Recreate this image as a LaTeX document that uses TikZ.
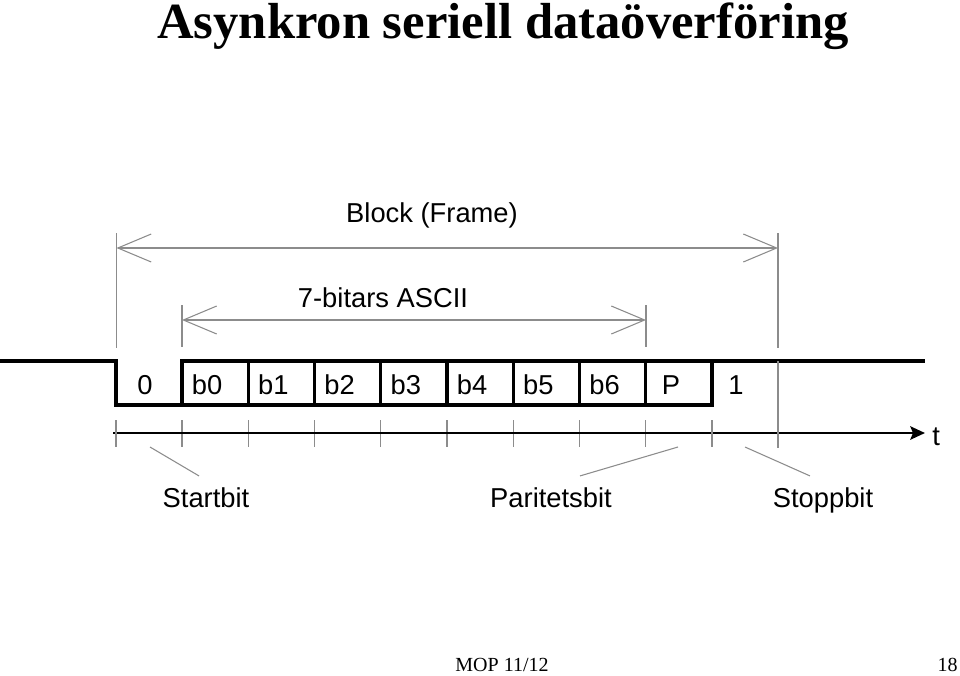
\documentclass[tikz,border=0pt]{standalone}
\usepackage{fontspec}
\setmainfont{Liberation Serif}
\setsansfont{Liberation Sans}
\usepackage{xcolor}
\definecolor{gra}{RGB}{140,140,140}
\usepackage{tikz}
\usetikzlibrary{arrows.meta,positioning,calc}

\begin{document}
\begin{tikzpicture}[x=0.75pt,y=-0.75pt,
    etikett/.style={font=\fontsize{20.5}{24}\selectfont\sffamily,inner sep=0pt,anchor=base},
    ruta/.style={draw,line width=2.3pt,minimum width=49.69pt,minimum height=33pt,inner sep=0pt,outer sep=0pt},
    tunn/.style={draw=gra,line width=0.8pt},
    matt/.style={tunn,{Straight Barb[length=25pt,width=21pt]}-{Straight Barb[length=25pt,width=21pt]}},
    signal/.style={line width=2.3pt}
    ]
    \useasboundingbox (0,0) rectangle (960,675);

    % rubrik
    \node[font=\fontsize{38}{40}\selectfont\bfseries,inner sep=0pt,anchor=base] (rubrik) at (503,38) {Asynkron seriell dataöverföring};

    % bitrutor
    \foreach \t [count=\i from 0] in {b0,b1,b2,b3,b4,b5,b6,P} {
      \node[ruta] (bit\i) at (215.125+66.25*\i,383) {};
      \node[etikett] at ($(bit\i.center)+(-8,11)$) {\t};
      \draw[tunn] (bit\i.south west) ++(0,15) -- ++(0,27);
    }
    \node[etikett] (noll) at (145,394) {0};
    \node[etikett] (etta) at (736,394) {1};

    % signalen
    \coordinate (vila) at (0,361);
    \coordinate (fall) at (116,405);
    \coordinate (slut) at (925,361);
    \draw[signal] (vila) -| (fall) -- (bit0.south west);
    \draw[signal] (bit7.north east) -- (slut);

    % tidsaxel
    \coordinate (t0) at (113,433);
    \coordinate (tspets) at (925,433);
    \node[etikett,anchor=base west] (tid) at (932,445) {t};
    \draw[line width=2pt,-{Stealth[length=11pt,width=10pt,inset=2pt]}] (t0) -- (tspets);
    \draw[tunn] (116,420) -- (116,447);
    \draw[tunn] (bit7.south east) ++(0,15) -- ++(0,27);

    % block (frame)
    \coordinate (ram0) at (116.5,233);
    \coordinate (ram1) at (778,233);
    \draw[tunn] (ram0) -- ++(0,115);
    \draw[tunn] (ram1) -- ++(0,115);
    \draw[tunn] (778,361) -- (778,448);
    \draw[matt] ($(ram0)+(0,15)$) -- ($(ram1)+(0,15)$);
    \node[etikett] (ram) at (432,222) {Block (Frame)};

    % 7-bitars ASCII
    \coordinate (ascii0) at (182,305);
    \coordinate (ascii1) at (646,305);
    \draw[tunn] (ascii0) -- ++(0,42);
    \draw[tunn] (ascii1) -- ++(0,42);
    \draw[matt] ($(ascii0)+(0,15)$) -- ($(ascii1)+(0,15)$);
    \node[etikett] (ascii) at (383,307) {7-bitars ASCII};

    % forklaringar
    \node[etikett] (start) at (206,507) {Startbit};
    \node[etikett] (paritet) at (551,507) {Paritetsbit};
    \node[etikett] (stopp) at (823,507) {Stoppbit};
    \draw[tunn] (150,447) -- ($(start.north)+(-7,-11)$);
    \draw[tunn] (678,447) -- ($(paritet.north)+(29,-11)$);
    \draw[tunn] (745,447) -- ($(stopp.north)+(-13,-11)$);

    % sidfot
    \node[font=\fontsize{15}{18}\selectfont,inner sep=0pt,anchor=base] (fot) at (502,671) {MOP 11/12};
    \node[font=\fontsize{15}{18}\selectfont,inner sep=0pt,anchor=base east] (sida) at (958,671) {18};
\end{tikzpicture}
\end{document}
